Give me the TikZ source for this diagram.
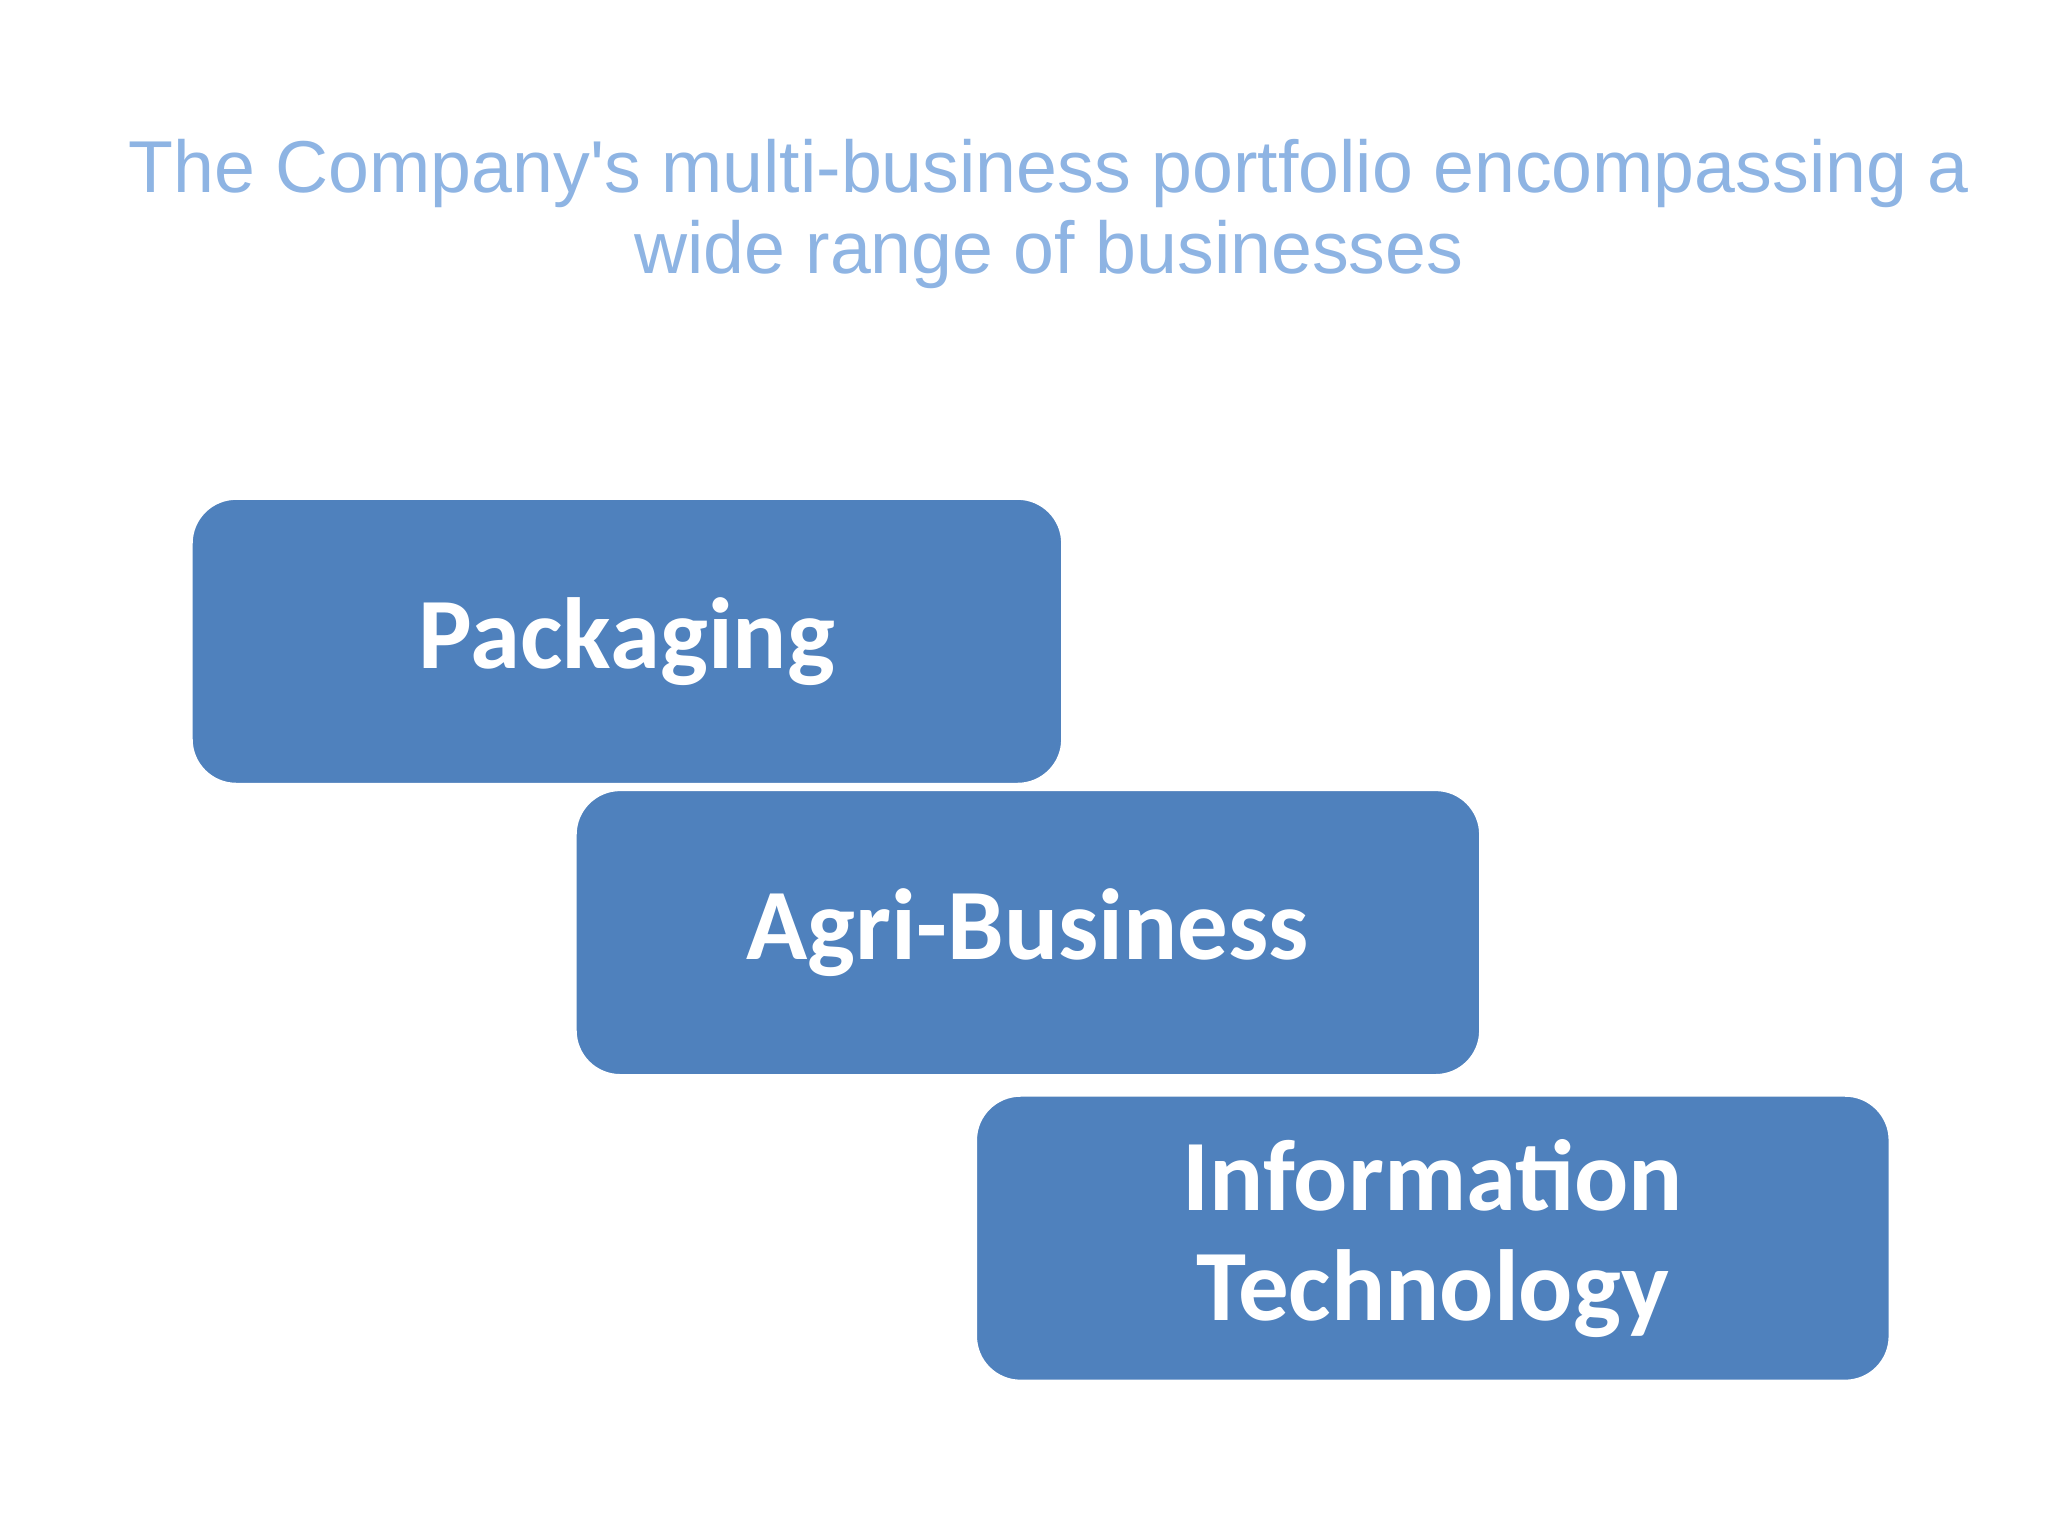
\documentclass[tikz,border=0pt]{standalone}
\usepackage{fontspec}
\setmainfont{Carlito}
\newfontfamily\titlefont{Liberation Sans}
\definecolor{boxblue}{HTML}{4F81BD}
\definecolor{titleblue}{HTML}{8EB4E3}
\begin{document}
\begin{tikzpicture}[x=0.01cm,y=-0.01cm,
  biz/.style={draw=white,line width=1pt,fill=boxblue,rounded corners=0.35cm,
    minimum width=#1,minimum height=2.2cm,inner sep=0pt,text=white,
    font=\fontsize{22}{24}\selectfont\bfseries,align=center}]
\useasboundingbox (0,0) rectangle (1568,1176);
\node[font=\titlefont\fontsize{16}{17.6}\selectfont,text=titleblue,align=center] (title) at (803,164)
  {The Company's multi-business portfolio encompassing a\\wide range of businesses};
\node[biz=6.68cm] (pack) at (480,491) {Packaging};
\node[biz=6.94cm] (agri) at (787,714) {Agri-Business};
\node[biz=7.01cm] (it) at (1097,948) {Information\\Technology};
\end{tikzpicture}
\end{document}
